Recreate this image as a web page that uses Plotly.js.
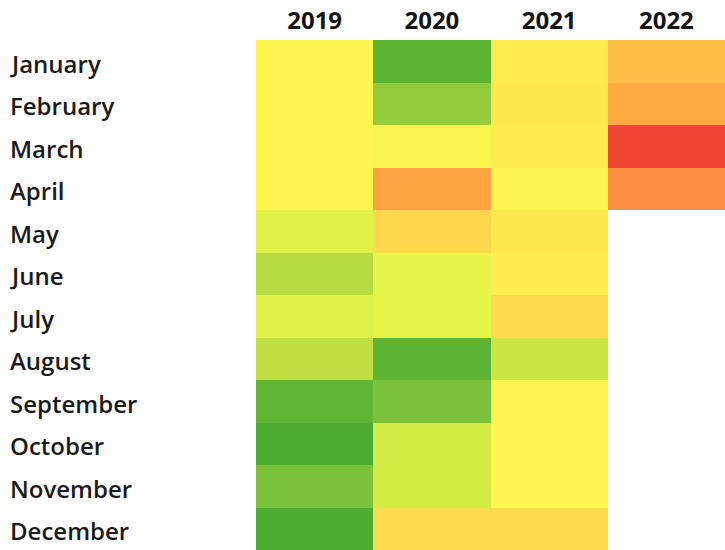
<!DOCTYPE html>
<html>
<head>
<meta charset="utf-8">
<script src="https://cdn.plot.ly/plotly-3.0.1.min.js"></script>
<style>html,body{margin:0;padding:0;background:#fff;}#chart{width:725px;height:550px;}</style>
</head>
<body>
<div id="chart"></div>
<script>
var years = ['2019', '2020', '2021', '2022'];
var months = ['January', 'February', 'March', 'April', 'May', 'June', 'July',
  'August', 'September', 'October', 'November', 'December'];
// estimated index values read from colours (low = green, high = red)
var v2019 = [55, 55, 55, 55, 43, 33, 43, 35, 12, 5, 20, 6];
var v2020 = [10, 25, 53, 76, 64, 45, 45, 10, 20, 40, 40, 63];
var v2021 = [58, 59, 58, 54, 59, 58, 63, 38, 55, 55, 55, 63];
var v2022 = [70, 74, 95, 80, null, null, null, null, null, null, null, null];

var series = [v2019, v2020, v2021, v2022];
var z = months.map(function (m, i) {
  return series.map(function (s) { return s[i]; });
});

var trace = {
  type: 'heatmap',
  x: years,
  y: months,
  z: z,
  zmin: 0,
  zmax: 100,
  showscale: false,
  hoverongaps: false,
  colorscale: [
    [0.0, '#3aa52d'],
    [0.2, '#7cc23a'],
    [0.35, '#bfe042'],
    [0.45, '#e6f547'],
    [0.55, '#fff64f'],
    [0.65, '#ffd44c'],
    [0.77, '#ff9f42'],
    [0.88, '#f8683a'],
    [1.0, '#ea2a32']
  ]
};

var annotations = months.map(function (m) {
  return {
    text: m, xref: 'paper', yref: 'y', x: -0.5285, y: m,
    xanchor: 'left', yanchor: 'middle', showarrow: false, yshift: -2,
    font: {family: 'Open Sans, sans-serif', size: 24, color: '#1a1a1a', weight: 600}
  };
});

var layout = {
  width: 725,
  height: 550,
  margin: {l: 256, r: 0, t: 40, b: 0, pad: 0},
  paper_bgcolor: '#fff',
  plot_bgcolor: '#fff',
  xaxis: {
    side: 'top', type: 'category', showgrid: false, zeroline: false,
    ticks: '', ticklabelstandoff: 5, range: [-0.5, 3.5],
    tickfont: {family: 'Open Sans, sans-serif', size: 24, color: '#141414', weight: 'bold'}
  },
  yaxis: {
    type: 'category', autorange: 'reversed', showgrid: false, zeroline: false,
    showticklabels: false, ticks: ''
  },
  annotations: annotations
};

Plotly.newPlot('chart', [trace], layout, {displayModeBar: false, staticPlot: true});
</script>
</body>
</html>
